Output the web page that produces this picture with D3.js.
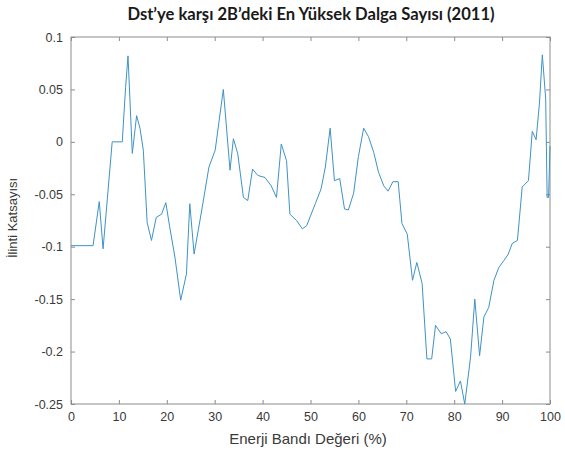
<!DOCTYPE html>
<html>
<head>
<meta charset="utf-8">
<script src="https://cdn.jsdelivr.net/npm/d3@7"></script>
<style>
  html, body { margin: 0; padding: 0; background: #fff; }
  svg { display: block; }
</style>
</head>
<body>
<svg id="chart" width="565" height="457"></svg>
<script>
// Energy band value (%) and correlation coefficient
const energyBand = [0, 4.6, 5.9, 6.7, 8.6, 10.7, 11.4, 11.9, 12.8, 13.7, 14.4, 15.1, 15.9, 16.8, 17.8, 18.9, 19.8, 20.6, 21.7, 22.9, 24.1, 24.8, 25.7, 27.3, 28.8, 30.1, 31.8, 33.2, 33.9, 34.8, 36.0, 36.9, 37.9, 39.0, 40.5, 41.8, 42.9, 43.9, 45.0, 45.7, 47.1, 48.3, 49.2, 51.0, 52.2, 53.1, 54.1, 55.0, 56.1, 57.1, 57.9, 59.0, 60.0, 61.1, 62.1, 63.2, 64.2, 65.3, 66.2, 67.2, 68.3, 69.1, 70.2, 71.3, 72.2, 73.3, 74.3, 75.3, 76.1, 77.3, 78.3, 79.2, 80.3, 81.3, 82.2, 83.4, 84.3, 85.3, 86.2, 87.2, 88.3, 89.3, 90.4, 91.3, 92.1, 93.2, 94.2, 95.5, 96.3, 97.1, 97.8, 98.4, 99.1, 99.4, 99.7, 100];
const correlation = [-0.099, -0.099, -0.057, -0.102, 0, 0, 0.052, 0.082, -0.011, 0.025, 0.013, -0.008, -0.077, -0.094, -0.072, -0.069, -0.058, -0.081, -0.110, -0.151, -0.126, -0.059, -0.107, -0.065, -0.024, -0.008, 0.050, -0.027, 0.003, -0.011, -0.053, -0.056, -0.026, -0.032, -0.034, -0.042, -0.053, -0.002, -0.018, -0.069, -0.075, -0.083, -0.080, -0.059, -0.045, -0.024, 0.013, -0.037, -0.035, -0.064, -0.065, -0.049, -0.014, 0.013, 0.005, -0.010, -0.029, -0.042, -0.047, -0.038, -0.038, -0.078, -0.088, -0.132, -0.115, -0.135, -0.207, -0.207, -0.175, -0.183, -0.181, -0.188, -0.238, -0.228, -0.250, -0.206, -0.150, -0.204, -0.167, -0.158, -0.132, -0.120, -0.113, -0.107, -0.097, -0.094, -0.043, -0.037, 0.010, 0.002, 0.037, 0.083, 0.041, -0.053, -0.053, -0.004];

const xTicks = [0, 10, 20, 30, 40, 50, 60, 70, 80, 90, 100];
const yTicks = [0.1, 0.05, 0, -0.05, -0.1, -0.15, -0.2, -0.25];
const yTickLabels = ["0.1", "0.05", "0", "-0.05", "-0.1", "-0.15", "-0.2", "-0.25"];

const titleText = "Dst\u2019ye karşı 2B\u2019deki En Yüksek Dalga Sayısı (2011)";
const xLabel = "Enerji Bandı Değeri (%)";
const yLabel = "İlinti Katsayısı";

const svg = d3.select("#chart");
const plotLeft = 71, plotRight = 550, plotTop = 37, plotBottom = 404;
const w = plotRight - plotLeft, h = plotBottom - plotTop;

const x = d3.scaleLinear().domain([0, 100]).range([plotLeft, plotRight]);
const y = d3.scaleLinear().domain([-0.25, 0.1]).range([plotBottom, plotTop]);

const axisColor = "#8c8c8c";
const textColor = "#3a3a3a";
const tickFont = "Liberation Sans, Arial, sans-serif";

// Box around the plot area
svg.append("rect")
  .attr("x", plotLeft).attr("y", plotTop).attr("width", w).attr("height", h)
  .attr("fill", "none").attr("stroke", axisColor).attr("stroke-width", 1);

// Inward ticks on all four sides
const tl = 4;
function styleAxis(g) {
  g.select(".domain").remove();
  g.selectAll(".tick line").attr("stroke", axisColor);
  g.selectAll(".tick text").attr("fill", textColor)
    .style("font-family", tickFont).style("font-size", "12.5px");
}
svg.append("g").attr("transform", `translate(0,${plotBottom})`)
  .call(d3.axisBottom(x).tickValues(xTicks).tickSizeInner(-tl).tickSizeOuter(0).tickPadding(8).tickFormat(d3.format("d")))
  .call(styleAxis);
svg.append("g").attr("transform", `translate(0,${plotTop})`)
  .call(d3.axisTop(x).tickValues(xTicks).tickSizeInner(-tl).tickSizeOuter(0).tickFormat(""))
  .call(styleAxis);
svg.append("g").attr("transform", `translate(${plotLeft},0)`)
  .call(d3.axisLeft(y).tickValues(yTicks).tickSizeInner(-tl).tickSizeOuter(0).tickPadding(8)
    .tickFormat((d, i) => yTickLabels[i]))
  .call(styleAxis);
svg.append("g").attr("transform", `translate(${plotRight},0)`)
  .call(d3.axisRight(y).tickValues(yTicks).tickSizeInner(-tl).tickSizeOuter(0).tickFormat(""))
  .call(styleAxis);

// Correlation line
const points = energyBand.map((v, i) => [v, correlation[i]]);
svg.append("path")
  .datum(points)
  .attr("fill", "none")
  .attr("stroke", "#3f92c6")
  .attr("stroke-width", 1)
  .attr("stroke-linejoin", "round")
  .attr("d", d3.line().x(d => x(d[0])).y(d => y(d[1])));

// Title and axis labels
svg.append("text")
  .attr("x", 311).attr("y", 20)
  .attr("text-anchor", "middle")
  .attr("fill", "#1a1a1a")
  .style("font-family", "Lato, 'Open Sans', sans-serif")
  .style("font-weight", "bold")
  .style("font-size", "16.6px")
  .text(titleText);

svg.append("text")
  .attr("x", 308).attr("y", 444)
  .attr("text-anchor", "middle")
  .attr("fill", textColor)
  .style("font-family", tickFont)
  .style("font-size", "15px")
  .text(xLabel);

svg.append("text")
  .attr("transform", `translate(17,218) rotate(-90)`)
  .attr("text-anchor", "middle")
  .attr("fill", textColor)
  .style("font-family", tickFont)
  .style("font-size", "13px")
  .text(yLabel);
</script>
</body>
</html>
